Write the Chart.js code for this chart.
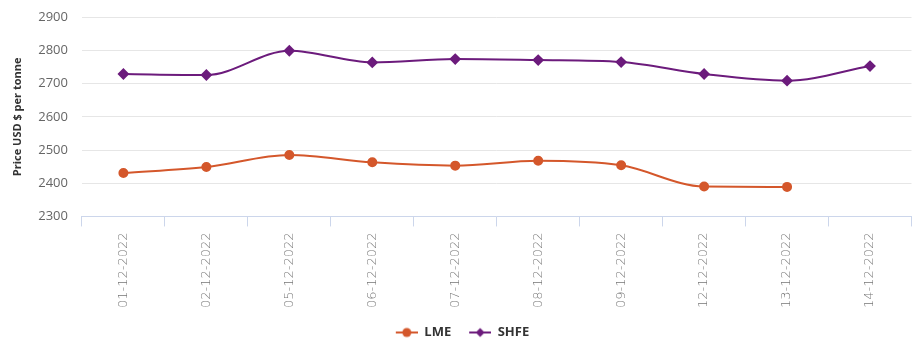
<!DOCTYPE html>
<html>
<head>
<meta charset="utf-8">
<script src="https://cdn.jsdelivr.net/npm/chart.js@4.4.0/dist/chart.umd.min.js"></script>
<style>
  html, body { margin: 0; padding: 0; background: #fff; }
  #wrap { width: 918px; height: 346px; position: relative; }
</style>
</head>
<body>
<div id="wrap"><canvas id="chart"></canvas></div>
<script>
const dates = ["01-12-2022", "02-12-2022", "05-12-2022", "06-12-2022", "07-12-2022",
  "08-12-2022", "09-12-2022", "12-12-2022", "13-12-2022", "14-12-2022"];
const lme = [2431, 2449, 2485, 2463, 2453, 2468, 2454, 2390, 2389, null];
const shfe = [2729, 2726, 2799, 2764, 2774, 2771, 2765, 2729, 2709, 2753];
const yTicks = [2300, 2400, 2500, 2600, 2700, 2800, 2900];

const LME_COLOR = "#d4572b";
const SHFE_COLOR = "#6c1b7c";

// line + marker swatch for the legend (blank on the left = extra gap between items)
function swatch(color, shape) {
  const c = document.createElement("canvas");
  c.width = 28; c.height = 12;
  const ctx = c.getContext("2d");
  ctx.strokeStyle = color;
  ctx.lineWidth = 2;
  ctx.beginPath(); ctx.moveTo(6, 6); ctx.lineTo(28, 6); ctx.stroke();
  ctx.fillStyle = color;
  ctx.beginPath();
  if (shape === "circle") {
    ctx.arc(17, 6, 4.5, 0, Math.PI * 2);
  } else {
    ctx.moveTo(17, 1.5); ctx.lineTo(21.5, 6); ctx.lineTo(17, 10.5); ctx.lineTo(12.5, 6); ctx.closePath();
  }
  ctx.fill();
  return c;
}

new Chart(document.getElementById("chart"), {
  type: "line",
  data: {
    labels: dates,
    datasets: [
      {
        label: "LME",
        data: lme,
        borderColor: LME_COLOR,
        backgroundColor: LME_COLOR,
        borderWidth: 2,
        pointStyle: "circle",
        pointRadius: 4,
        tension: 0.35,
        cubicInterpolationMode: "monotone",
        spanGaps: false,
        legendSwatch: swatch(LME_COLOR, "circle")
      },
      {
        label: "SHFE",
        data: shfe,
        borderColor: SHFE_COLOR,
        backgroundColor: SHFE_COLOR,
        borderWidth: 2,
        pointStyle: "rectRot",
        pointRadius: 4.5,
        tension: 0.35,
        cubicInterpolationMode: "monotone",
        legendSwatch: swatch(SHFE_COLOR, "diamond")
      }
    ]
  },
  options: {
    responsive: true,
    maintainAspectRatio: false,
    animation: false,
    layout: { padding: { top: 0, right: 0, left: 1, bottom: -3 } },
    plugins: {
      tooltip: { enabled: false },
      legend: {
        position: "bottom",
        labels: {
          usePointStyle: true,
          pointStyleWidth: 28,
          boxWidth: 28,
          boxHeight: 12,
          padding: 12,
          color: "#333",
          font: { family: "'Open Sans', sans-serif", size: 13, weight: "bold" },
          generateLabels(chart) {
            return chart.data.datasets.map((ds, i) => ({
              text: ds.label,
              pointStyle: ds.legendSwatch,
              fillStyle: ds.borderColor,
              strokeStyle: ds.borderColor,
              lineWidth: 0,
              fontColor: "#333",
              hidden: false,
              datasetIndex: i
            }));
          }
        }
      }
    },
    scales: {
      x: {
        offset: true,
        grid: {
          offset: true,
          drawOnChartArea: false,
          drawTicks: true,
          tickLength: 10,
          color: "#ccd6eb"
        },
        border: { display: true, color: "#ccd6eb" },
        ticks: {
          minRotation: 90,
          maxRotation: 90,
          autoSkip: false,
          padding: 6,
          color: "#777",
          font: { family: "'DejaVu Sans', sans-serif", size: 13, weight: "200" }
        }
      },
      y: {
        min: 2300,
        max: 2900,
        afterBuildTicks(scale) {
          scale.ticks = yTicks.map(v => ({ value: v }));
        },
        grid: { color: "#e6e6e6", drawTicks: false },
        border: { display: false },
        ticks: {
          padding: 14,
          color: "#666",
          // small lineHeight keeps the top label padding (and so the plot top) tight
          font: { family: "'Open Sans', sans-serif", size: 13, lineHeight: 0.5 },
          callback: v => String(v)
        },
        title: {
          display: true,
          text: "Price USD $ per tonne",
          color: "#333",
          padding: { top: 10, bottom: 0 },
          font: { family: "'Open Sans', sans-serif", size: 11, weight: "bold" }
        }
      }
    }
  }
});
</script>
</body>
</html>
